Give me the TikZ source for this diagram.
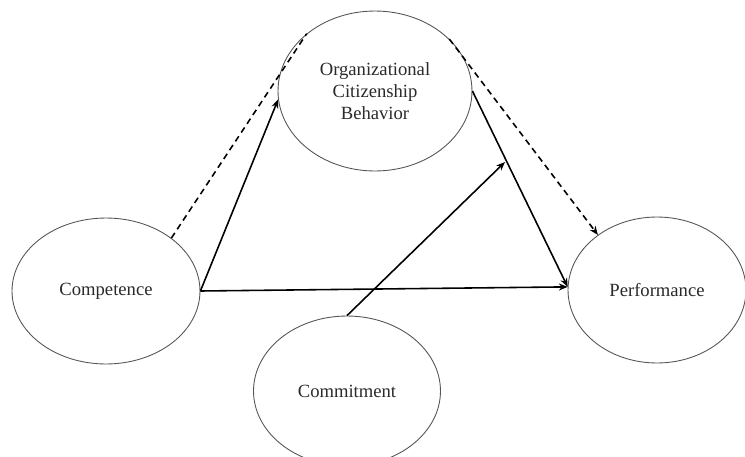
\documentclass[tikz,border=0pt]{standalone}
\usepackage{fontspec}
\setmainfont{Liberation Serif}
\usepackage{xcolor}
\usetikzlibrary{shapes.geometric,arrows.meta}
\definecolor{OCLine}{HTML}{555555}
\definecolor{OCText}{HTML}{2A2A2A}

\begin{document}
\begin{tikzpicture}[x=0.02cm,y=-0.02cm,
  construct/.style={ellipse,draw=OCLine,line width=0.5pt,inner sep=0pt,align=center,
    text=OCText,font=\fontsize{10.6}{12.6}\selectfont},
  path/.style={line width=0.9pt,-{Stealth[length=5pt,width=4pt]}},
  indirect/.style={path,dashed,dash pattern=on 3.5pt off 2.5pt}]
\path[use as bounding box] (0,0) rectangle (745,457);
\node[construct,minimum width=3.76cm,minimum height=2.92cm] (comp) at (106,291) {Competence};
\node[construct,minimum width=3.88cm,minimum height=3.2cm] (ocb) at (375,91) {Organizational\\Citizenship\\Behavior};
\node[construct,minimum width=3.56cm,minimum height=2.92cm] (perf) at (657,290) {Performance};
\node[construct,minimum width=3.74cm,minimum height=3.0cm] (comm) at (347,391) {Commitment};
\coordinate (mod) at (505,162);
\draw[indirect,-] (comp.39) -- (ocb.140);
\draw[path] (comp.east) -- (ocb.185);
\draw[indirect] (ocb.35) -- (perf.137);
\draw[path] (ocb.east) -- (perf.178);
\draw[path] (comp.east) -- (perf.178);
\draw[path] (comm.north) -- (mod);
\end{tikzpicture}
\end{document}
